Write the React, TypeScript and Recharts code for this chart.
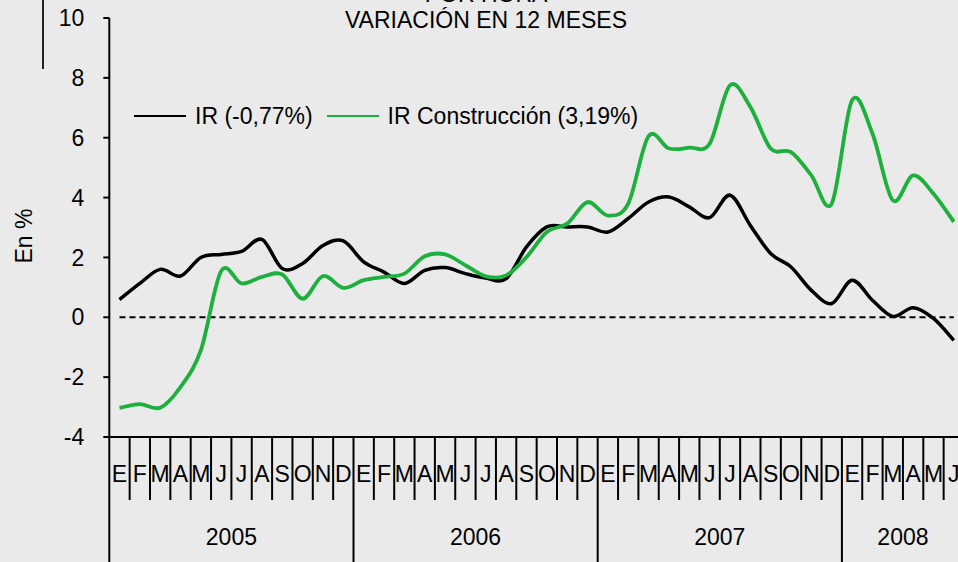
import React from 'react';
import { LineChart, Line, XAxis, YAxis, ReferenceLine, Legend } from 'recharts';

// ---------- data ----------
const monthLetters = ['E', 'F', 'M', 'A', 'M', 'J', 'J', 'A', 'S', 'O', 'N', 'D'];
const years = [2005, 2006, 2007, 2008];
const monthsPerYear = [12, 12, 12, 6];

const seriesNames = ['IR (-0,77%)', 'IR Construcción (3,19%)'];

const ir = [
  0.59, 1.13, 1.6, 1.38, 2.0, 2.1, 2.2, 2.6, 1.63, 1.8, 2.4, 2.55,
  1.85, 1.51, 1.13, 1.57, 1.66, 1.46, 1.31, 1.29, 2.35, 3.02, 3.02, 3.02,
  2.85, 3.3, 3.85, 4.02, 3.69, 3.33, 4.08, 3.07, 2.13, 1.68, 0.9, 0.46,
  1.24, 0.57, 0.03, 0.32, -0.04, -0.77,
];

const irConstruccion = [
  -3.03, -2.9, -3.02, -2.33, -1.1, 1.55, 1.13, 1.35, 1.43, 0.62, 1.38, 0.98,
  1.24, 1.35, 1.46, 2.04, 2.1, 1.74, 1.37, 1.4, 2.01, 2.85, 3.13, 3.85,
  3.4, 3.8, 6.05, 5.64, 5.67, 5.8, 7.75, 7.03, 5.64, 5.52, 4.74, 3.8,
  7.25, 6.14, 3.91, 4.74, 4.13, 3.19,
];

const yTicks = [-4, -2, 0, 2, 4, 6, 8, 10];

// ---------- build table ----------
const data: { idx: number; m: string; year: number; ir: number; irc: number }[] = [];
{
  let k = 0;
  years.forEach((yr, yi) => {
    for (let mi = 0; mi < monthsPerYear[yi]; mi++) {
      data.push({ idx: k, m: monthLetters[mi], year: yr, ir: ir[k], irc: irConstruccion[k] });
      k++;
    }
  });
}
const boundaries = Array.from({ length: data.length + 1 }, (_, i) => i - 0.5);

// ---------- layout ----------
const FONT = '"Liberation Sans", Arial, sans-serif';
const FS = 23;
const CHART_W = 975;
const CHART_H = 562;
const PLOT_LEFT = 109.3;
const PLOT_W = 854.7;
const MONTH_PX = PLOT_W / data.length;

// Excel-like smoothing (Catmull-Rom as cubic Bezier)
function excelSmooth(context: any) {
  let pts: number[][] = [];
  return {
    areaStart() {},
    areaEnd() {},
    lineStart() {
      pts = [];
    },
    lineEnd() {
      const n = pts.length;
      if (!n) return;
      context.moveTo(pts[0][0], pts[0][1]);
      for (let i = 0; i < n - 1; i++) {
        const p0 = pts[i - 1] || pts[i];
        const p1 = pts[i];
        const p2 = pts[i + 1];
        const p3 = pts[i + 2] || p2;
        context.bezierCurveTo(
          p1[0] + (p2[0] - p0[0]) / 6,
          p1[1] + (p2[1] - p0[1]) / 6,
          p2[0] - (p3[0] - p1[0]) / 6,
          p2[1] - (p3[1] - p1[1]) / 6,
          p2[0],
          p2[1]
        );
      }
    },
    point(x: number, y: number) {
      pts.push([+x, +y]);
    },
  };
}

const MonthTick = (props: any) => {
  const { x, y, payload } = props;
  const b = Math.round(payload.value + 0.5);
  const isYearStart = b % 12 === 0 && b < data.length;
  const isFirst = b === 0;
  const yearIdx = Math.floor(b / 12);
  return (
    <g>
      <line
        x1={x}
        y1={y}
        x2={x}
        y2={y + (isYearStart || isFirst ? 130 : 63)}
        stroke="#000"
        strokeWidth={2}
      />
      {b < data.length && (
        <text x={x + MONTH_PX / 2} y={y + 45} textAnchor="middle" fill="#000" fontSize={FS} fontFamily={FONT}>
          {data[b].m}
        </text>
      )}
      {isYearStart && (
        <text
          x={x + (monthsPerYear[yearIdx] * MONTH_PX) / 2}
          y={y + 108}
          textAnchor="middle"
          fill="#000"
          fontSize={FS}
          fontFamily={FONT}
        >
          {years[yearIdx]}
        </text>
      )}
    </g>
  );
};

const LegendContent = (props: any) => {
  const items = props.payload || [];
  return (
    <div
      style={{
        display: 'flex',
        alignItems: 'center',
        fontFamily: FONT,
        fontSize: FS,
        lineHeight: '26px',
        color: '#000',
        whiteSpace: 'nowrap',
      }}
    >
      {items.map((it: any, i: number) => (
        <div key={i} style={{ display: 'flex', alignItems: 'center', marginRight: 14 }}>
          <div style={{ width: 52, height: 2, background: it.color, marginRight: 9 }} />
          <span>{it.value}</span>
        </div>
      ))}
    </div>
  );
};

export default function App() {
  return (
    <div
      style={{
        position: 'absolute',
        left: 0,
        top: 0,
        width: 958,
        height: 562,
        overflow: 'hidden',
        background: '#EAEAEA',
      }}
    >
      <LineChart
        width={CHART_W}
        height={CHART_H}
        data={data}
        margin={{ top: 18, right: CHART_W - PLOT_LEFT - PLOT_W, left: 0, bottom: 0 }}
      >
        <XAxis
          dataKey="idx"
          type="number"
          domain={[-0.5, data.length - 0.5]}
          ticks={boundaries}
          interval={0}
          tickLine={false}
          tickSize={0}
          tickMargin={0}
          axisLine={{ stroke: '#000', strokeWidth: 2 }}
          height={125}
          tick={<MonthTick />}
        />
        <YAxis
          type="number"
          domain={[-4, 10]}
          ticks={yTicks}
          interval={0}
          width={PLOT_LEFT}
          tickSize={6}
          tickMargin={19}
          axisLine={{ stroke: '#000', strokeWidth: 2 }}
          tickLine={{ stroke: '#000', strokeWidth: 2 }}
          tick={{ fill: '#000', fontSize: FS, fontFamily: FONT }}
        />
        <ReferenceLine
          segment={[
            { x: 0, y: 0 },
            { x: data.length - 1, y: 0 },
          ]}
          stroke="#000"
          strokeWidth={2}
          strokeDasharray="6 4"
        />
        <Line
          dataKey="ir"
          name={seriesNames[0]}
          stroke="#000000"
          strokeWidth={3.5}
          dot={false}
          type={excelSmooth as any}
          isAnimationActive={false}
        />
        <Line
          dataKey="irc"
          name={seriesNames[1]}
          stroke="#1DB03C"
          strokeWidth={3.8}
          dot={false}
          type={excelSmooth as any}
          isAnimationActive={false}
        />
        <Legend
          layout="horizontal"
          align="center"
          verticalAlign="middle"
          content={<LegendContent />}
          wrapperStyle={{ left: 134, top: 103, width: 700, height: 28 }}
        />
      </LineChart>
      <svg
        width={958}
        height={562}
        style={{ position: 'absolute', left: 0, top: 0, pointerEvents: 'none' }}
      >
        <text x={486} y={2} textAnchor="middle" fill="#000" fontSize={FS} fontFamily={FONT}>
          POR HORA
        </text>
        <text x={486} y={28} textAnchor="middle" fill="#000" fontSize={FS} fontFamily={FONT}>
          VARIACIÓN EN 12 MESES
        </text>
        <line x1={43} y1={0} x2={43} y2={69} stroke="#222" strokeWidth={2} />
        <text
          transform="translate(31.5,236) rotate(-90)"
          x={0}
          y={0}
          textAnchor="middle"
          fill="#000"
          fontSize={FS}
          fontFamily={FONT}
        >
          En %
        </text>
      </svg>
    </div>
  );
}
